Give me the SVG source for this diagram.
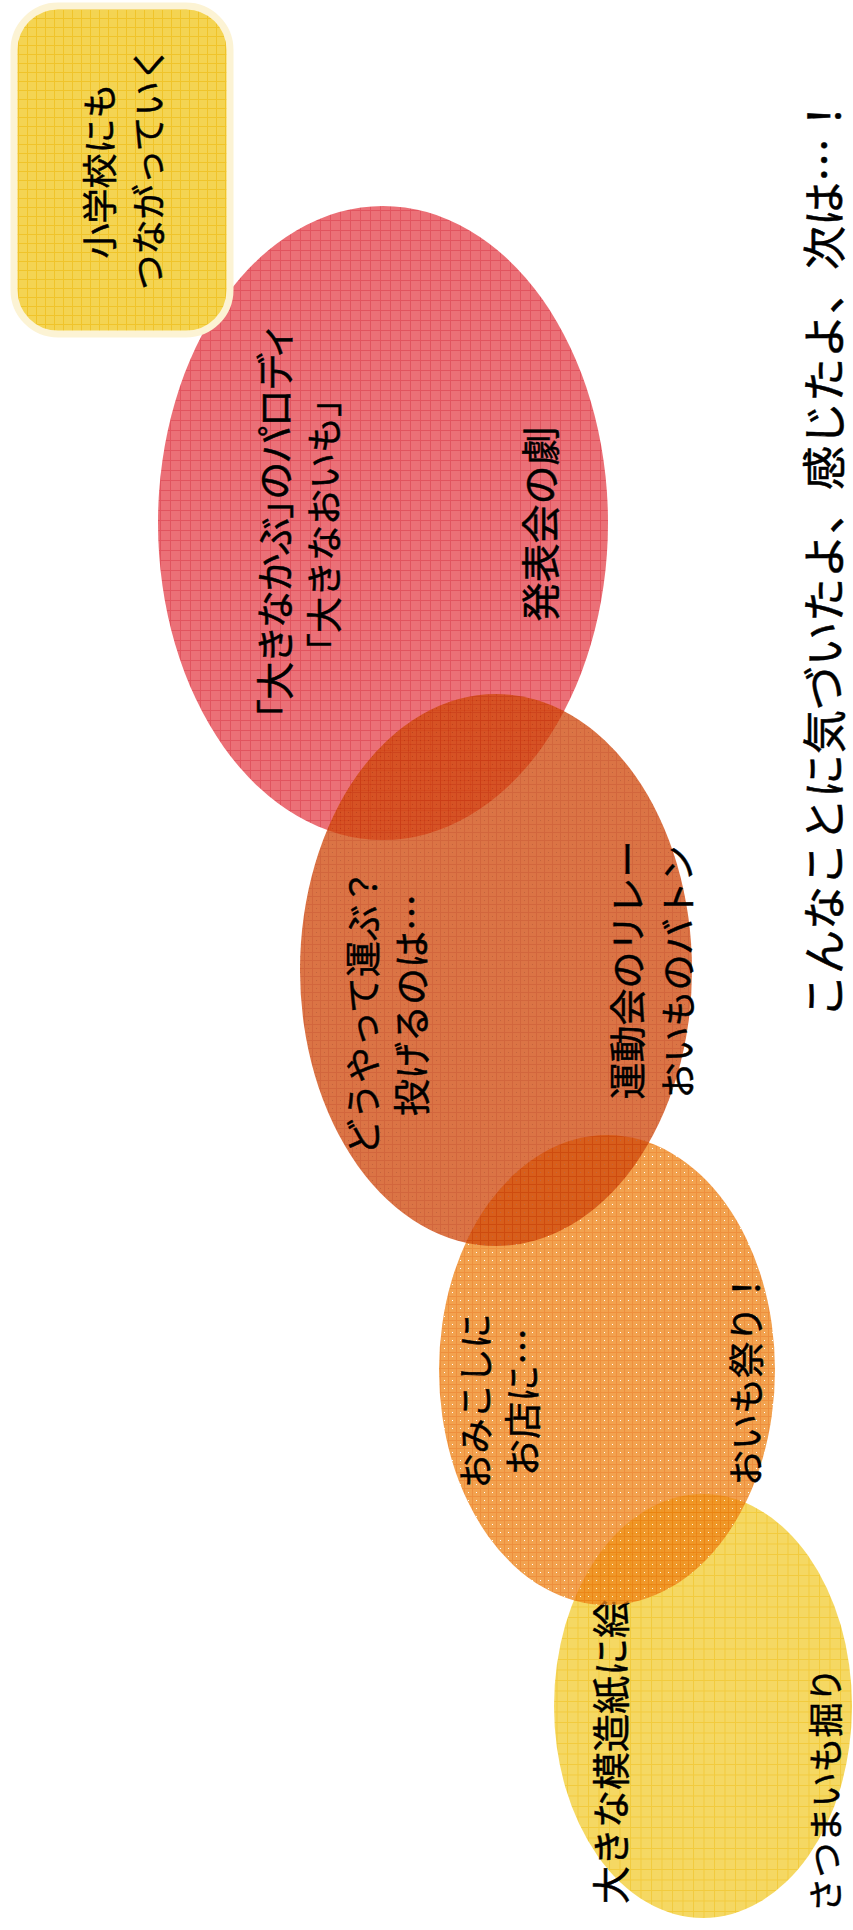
<svg xmlns="http://www.w3.org/2000/svg" width="853" height="1930" viewBox="0 0 853 1930">
<defs>
<style>
text{font-family:"Noto Sans CJK JP","Noto Sans",sans-serif;fill:#000;stroke:#000;stroke-width:0.5px;text-anchor:middle;dominant-baseline:central;}
.t36{font-size:36px}
.t35{font-size:35px}
.t38{font-size:38px}
.palt{font-feature-settings:"palt" 1}
.title{font-size:44px}
.blob{opacity:0.76}
</style>
<pattern id="pRed" width="10" height="10" patternUnits="userSpaceOnUse">
<rect width="10" height="10" fill="#E5434C"/>
<path d="M0 0.5H10M0.5 0V10" stroke="#D81E2C" stroke-width="1"/>
</pattern>
<pattern id="pDark" width="8" height="8" patternUnits="userSpaceOnUse">
<rect width="8" height="8" fill="#D0480A"/>
<path d="M0 0.5H8M0.5 0V8" stroke="#C43600" stroke-width="1"/>
<rect x="4" y="4" width="1" height="1" fill="#B03200"/>
</pattern>
<pattern id="pLight" width="8" height="8" patternUnits="userSpaceOnUse">
<rect width="8" height="8" fill="#EE8418"/>
<path d="M0 0.5H8M0.5 0V8" stroke="#E86C00" stroke-width="1"/>
<rect x="4" y="4" width="1" height="1" fill="#FFFFFF"/>
</pattern>
<pattern id="pYel" width="10.5" height="10.5" patternUnits="userSpaceOnUse">
<rect width="10.5" height="10.5" fill="#F2CC32"/>
<path d="M0 0.5H10.5M0.5 0V10.5" stroke="#EEBA00" stroke-width="1"/>
</pattern>
<pattern id="pRect" width="9" height="9" patternUnits="userSpaceOnUse">
<rect width="9" height="9" fill="#F4D452"/>
<path d="M0 0.5H9M0.5 0V9" stroke="#F0C42A" stroke-width="1"/>
</pattern>
</defs>
<rect width="853" height="1930" fill="#FFFFFF"/>

<g id="node-red">
<ellipse class="blob" cx="383" cy="523" rx="225" ry="317" fill="url(#pRed)"/>
<text class="palt" style="font-size:38px" transform="translate(272,523) rotate(-90)">「大きなかぶ」のパロディ</text>
<text class="t36" transform="translate(322,525) rotate(-90)">「大きなおいも」</text>
<text style="font-size:39px" transform="translate(538,524) rotate(-90)">発表会の劇</text>
</g>

<g id="node-school">
<rect x="14" y="6" width="216" height="328" rx="44" fill="url(#pRect)" stroke="#FCF3D4" stroke-width="7"/>
<text class="t35" transform="translate(97,171) rotate(-90)">小学校にも</text>
<text class="t35" transform="translate(146,168) rotate(-90)">つながっていく</text>
</g>

<g id="node-yellow">
<ellipse class="blob" cx="703" cy="1706" rx="149" ry="212" fill="url(#pYel)"/>
<text class="t38" transform="translate(608,1752) rotate(-90)">大きな模造紙に絵</text>
<text class="t35" transform="translate(823,1790) rotate(-90)">さつまいも掘り</text>
</g>

<g id="node-light">
<ellipse class="blob" cx="607" cy="1370" rx="168" ry="235" fill="url(#pLight)"/>
<text class="t35" transform="translate(473,1401) rotate(-90)">おみこしに</text>
<text style="font-size:37px" transform="translate(521,1402) rotate(-90)">お店に…</text>
<text class="t36" transform="translate(744,1378) rotate(-90)">おいも祭り！</text>
</g>

<g id="node-dark">
<ellipse class="blob" cx="496" cy="970" rx="196" ry="276" fill="url(#pDark)"/>
<text class="t36" transform="translate(361,1012) rotate(-90)">どうやって運ぶ？</text>
<text style="font-size:37px" transform="translate(410,1005) rotate(-90)">投げるのは…</text>
<text style="font-size:37px" transform="translate(626,970) rotate(-90)">運動会のリレー</text>
<text class="t36" transform="translate(676,972) rotate(-90)">おいものバトン</text>
</g>

<g id="title">
<text class="title" transform="translate(822,556) rotate(-90)">こんなことに気づいたよ、感じたよ、次は…！</text>
</g>

<g id="connectors"></g>
</svg>
